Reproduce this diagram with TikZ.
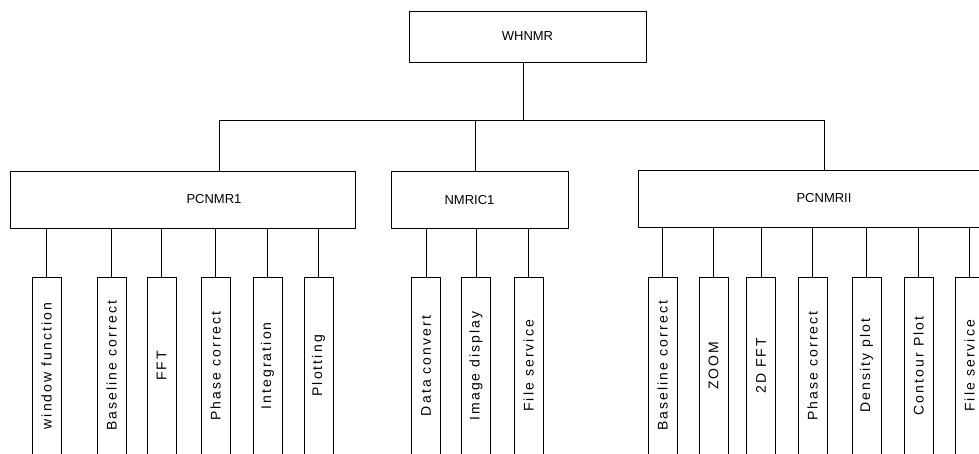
\documentclass[tikz,border=0pt]{standalone}
\usepackage{fontspec}
\setmainfont{Liberation Sans}
\newfontfamily\plotfont[LetterSpace=15]{Liberation Sans}

\begin{document}
\begin{tikzpicture}[x=1pt, y=-1pt, line width=0.7pt,
root/.style={rectangle, draw=black, minimum width=237pt, minimum height=51pt, font=\fontsize{13}{13}\selectfont},
module/.style={rectangle, draw=black, minimum height=57pt, font=\fontsize{13}{13}\selectfont},
leaf/.style={rectangle, draw=black, rotate=90, anchor=east, minimum width=177pt, minimum height=29pt, inner sep=0pt, font=\plotfont\fontsize{14}{14}\selectfont},
]
\clip (0,0) rectangle (979,454);
% top level
\node[root] (whnmr) at (527.5,36.5) {WHNMR};
\node[module, minimum width=345pt] (pcnmr1) at (182.5,199.5) {\hspace*{63pt}PCNMR1};
\node[module, minimum width=177pt] (nmric1) at (479.5,200) {NMRIC1\hspace*{20pt}};
\node[module, minimum width=372pt] (pcnmr2) at (824,198.5) {PCNMRII};
\coordinate (bus) at (523,120);
\draw (bus |- whnmr.south) -- (bus);
\draw ([xshift=36.5pt]pcnmr1.north) |- (bus);
\draw ([xshift=-4.5pt]nmric1.north) |- (bus);
\draw (pcnmr2.north) |- (bus);
% PCNMR1
\node[leaf] (wf) at (46.5,277) {window function};
\node[leaf] (bc1) at (111.5,277) {Baseline correct};
\node[leaf] (fft) at (161.5,277) {FFT};
\node[leaf] (pc1) at (215.5,277) {Phase correct};
\node[leaf] (int) at (267.5,277) {Integration};
\node[leaf] (plt) at (318.5,277) {Plotting};
\draw (wf.east) -- (wf.east |- pcnmr1.south);
\draw (bc1.east) -- (bc1.east |- pcnmr1.south);
\draw (fft.east) -- (fft.east |- pcnmr1.south);
\draw (pc1.east) -- (pc1.east |- pcnmr1.south);
\draw (int.east) -- (int.east |- pcnmr1.south);
\draw (plt.east) -- (plt.east |- pcnmr1.south);
% NMRIC1
\node[leaf] (dc) at (426,277) {Data convert};
\node[leaf] (img) at (476,277) {Image display};
\node[leaf] (fs1) at (528.5,277) {File service};
\draw (dc.east) -- (dc.east |- nmric1.south);
\draw (img.east) -- (img.east |- nmric1.south);
\draw (fs1.east) -- (fs1.east |- nmric1.south);
% PCNMRII
\node[leaf] (bc2) at (662.5,277) {Baseline correct};
\node[leaf] (zoom) at (713.5,277) {ZOOM};
\node[leaf] (fft2) at (761,277) {2D FFT};
\node[leaf] (pc2) at (812.5,277) {Phase correct};
\node[leaf] (dp) at (866.5,277) {Density plot};
\node[leaf] (cp) at (918.5,277) {Contour Plot};
\node[leaf] (fs2) at (969.5,277) {File service};
\draw (bc2.east) -- (bc2.east |- pcnmr2.south);
\draw (zoom.east) -- (zoom.east |- pcnmr2.south);
\draw (fft2.east) -- (fft2.east |- pcnmr2.south);
\draw (pc2.east) -- (pc2.east |- pcnmr2.south);
\draw (dp.east) -- (dp.east |- pcnmr2.south);
\draw (cp.east) -- (cp.east |- pcnmr2.south);
\draw (fs2.east) -- (fs2.east |- pcnmr2.south);
\end{tikzpicture}
\end{document}
